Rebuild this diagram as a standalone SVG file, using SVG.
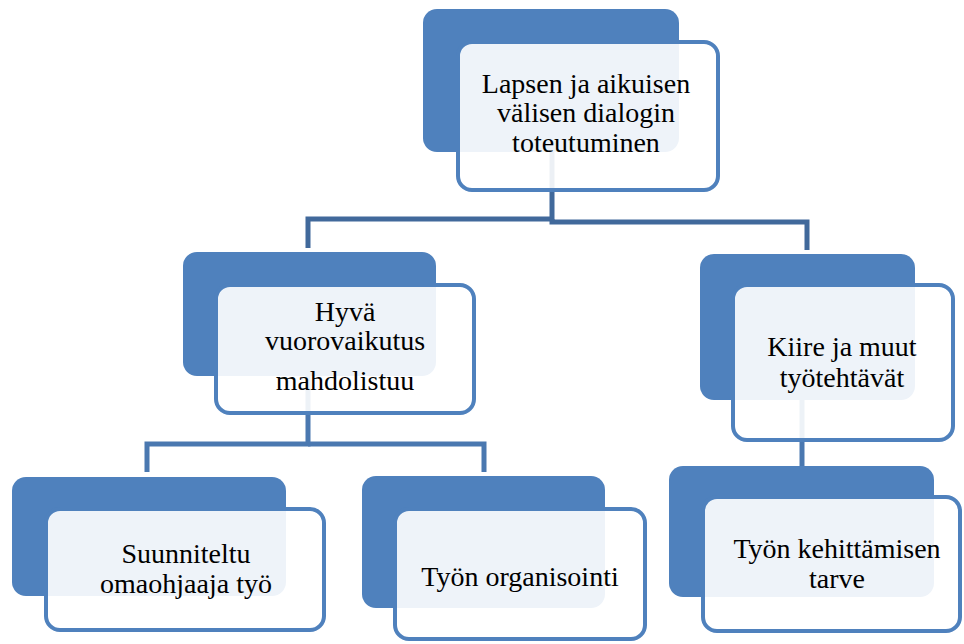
<svg xmlns="http://www.w3.org/2000/svg" width="964" height="644" viewBox="0 0 964 644">
<style>
.back{fill:#4F81BD;}
.front{fill:#FFFFFF;fill-opacity:0.9;stroke:#4F81BD;stroke-width:4;}
.conn{fill:none;stroke:#41699B;stroke-width:5;}
.conn2{fill:none;stroke:#4A78B0;stroke-width:5;}
</style>
<rect width="964" height="644" fill="#FFFFFF"/>
<g id="connectors">
<path class="conn" d="M552,150 V219 H308 V248"/>
<path class="conn" d="M552,219 V222 H807 V250"/>
<path class="conn2" d="M308,376 V444 H147 V472"/>
<path class="conn2" d="M308,444 H484 V472"/>
<path class="conn2" d="M802,400 V466"/>
</g>
<g font-family="'Liberation Serif', Tinos, 'Noto Serif', 'DejaVu Serif', serif" font-size="28" fill="#000000" text-anchor="middle">
<g id="node-top">
<rect class="back" x="423" y="9" width="256" height="143" rx="14"/>
<rect class="front" x="458" y="42" width="260" height="148" rx="14"/>
<text x="586" y="93">Lapsen ja aikuisen</text>
<text x="586" y="122">välisen dialogin</text>
<text x="586" y="152">toteutuminen</text>
</g>
<g id="node-mid-left">
<rect class="back" x="183" y="252" width="253" height="124" rx="14"/>
<rect class="front" x="216" y="285" width="258" height="128" rx="14"/>
<text x="345" y="321">Hyvä</text>
<text x="345" y="350">vuorovaikutus</text>
<text x="345" y="390">mahdolistuu</text>
</g>
<g id="node-mid-right">
<rect class="back" x="700" y="254" width="215" height="146" rx="14"/>
<rect class="front" x="733" y="285" width="220" height="155" rx="14"/>
<text x="842" y="356">Kiire ja muut</text>
<text x="842" y="387">työtehtävät</text>
</g>
<g id="node-bot-left">
<rect class="back" x="12" y="477" width="274" height="119" rx="14"/>
<rect class="front" x="46" y="509" width="278" height="121" rx="14"/>
<text x="186" y="563">Suunniteltu</text>
<text x="186" y="593">omaohjaaja työ</text>
</g>
<g id="node-bot-mid">
<rect class="back" x="362" y="476" width="243" height="132" rx="14"/>
<rect class="front" x="395" y="509" width="250" height="130" rx="14"/>
<text x="520" y="586">Työn organisointi</text>
</g>
<g id="node-bot-right">
<rect class="back" x="669" y="466" width="265" height="131" rx="14"/>
<rect class="front" x="703" y="497" width="257" height="134" rx="14"/>
<text x="837" y="558">Työn kehittämisen</text>
<text x="837" y="588">tarve</text>
</g>
</g>
</svg>
